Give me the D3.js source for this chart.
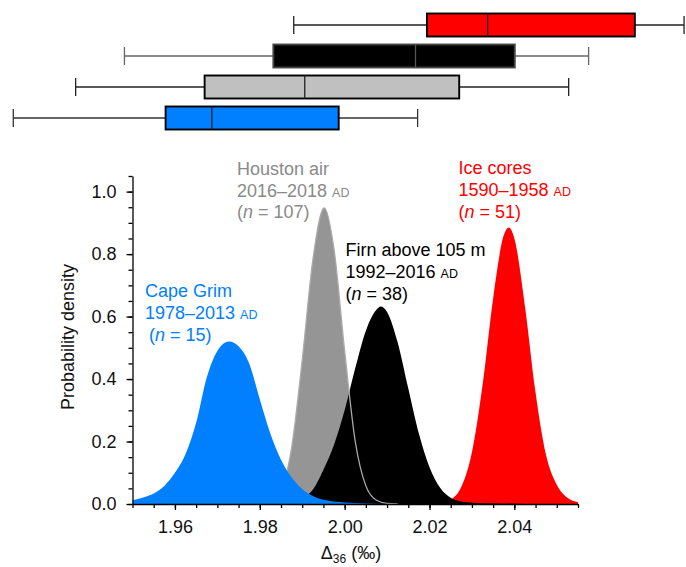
<!DOCTYPE html>
<html>
<head>
<meta charset="utf-8">
<script src="https://cdn.jsdelivr.net/npm/d3@7"></script>
<style>
  html, body { margin: 0; padding: 0; background: #fff; }
  svg { display: block; font-family: "Liberation Sans", Arial, Helvetica, sans-serif; }
</style>
</head>
<body>
<svg id="chart" width="686" height="567"></svg>
<script>
// ---------------- DATA ----------------
// Posterior probability densities (Δ36, density)
const capeGrimX = [1.9500,1.9525,1.9550,1.9575,1.9600,1.9625,1.9650,1.9675,1.9700,1.9728,1.9750,1.9775,1.9800,1.9825,1.9850,1.9875,1.9900,1.9925,1.9950,1.9975,2.0000,2.0050,2.0100];
const capeGrimD = [0.012,0.021,0.034,0.058,0.100,0.160,0.260,0.405,0.490,0.520,0.505,0.450,0.335,0.225,0.142,0.086,0.048,0.026,0.014,0.008,0.005,0.002,0.000];

const houstonX = [1.9800,1.9825,1.9850,1.9875,1.9900,1.9925,1.9952,1.9975,2.0000,2.0025,2.0050,2.0075,2.0100,2.0125];
const houstonD = [0.002,0.008,0.045,0.180,0.460,0.780,0.948,0.815,0.490,0.200,0.058,0.012,0.002,0.000];

const firnX = [1.9800,1.9850,1.9900,1.9925,1.9950,1.9975,2.0000,2.0025,2.0050,2.0075,2.0085,2.0100,2.0125,2.0150,2.0175,2.0200,2.0225,2.0250,2.0275,2.0300,2.0350,2.0400,2.0450];
const firnD = [0.002,0.005,0.020,0.046,0.110,0.190,0.300,0.435,0.555,0.622,0.632,0.615,0.517,0.370,0.226,0.118,0.052,0.020,0.008,0.004,0.002,0.001,0.000];

const iceX = [2.0200,2.0225,2.0250,2.0275,2.0300,2.0325,2.0350,2.0375,2.0387,2.0400,2.0425,2.0450,2.0475,2.0500,2.0525,2.0550];
const iceD = [0.000,0.003,0.014,0.055,0.166,0.380,0.658,0.860,0.885,0.850,0.632,0.356,0.155,0.062,0.020,0.006];

// Box plots (top to bottom)
const boxGroups = ["Ice cores", "Firn", "Houston air", "Cape Grim"];
const boxMin    = [1.9880, 1.9481, 1.9366, 1.9219];
const boxQ1     = [2.0194, 1.9832, 1.9670, 1.9578];
const boxMedian = [2.0337, 2.0167, 1.9906, 1.9687];
const boxQ3     = [2.0684, 2.0401, 2.0270, 1.9986];
const boxMax    = [2.0800, 2.0575, 2.0528, 2.0172];

// Axis ticks
const xTickValues = [1.96, 1.98, 2.00, 2.02, 2.04];
const xTickLabels = ["1.96", "1.98", "2.00", "2.02", "2.04"];
const xMinorTicks = [1.950,1.955,1.960,1.965,1.970,1.975,1.980,1.985,1.990,1.995,2.000,2.005,2.010,2.015,2.020,2.025,2.030,2.035,2.040,2.045,2.050,2.055];
const yTickValues = [0.0, 0.2, 0.4, 0.6, 0.8, 1.0];
const yTickLabels = ["0.0", "0.2", "0.4", "0.6", "0.8", "1.0"];
const yMinorTicks = [0.00,0.05,0.10,0.15,0.20,0.25,0.30,0.35,0.40,0.45,0.50,0.55,0.60,0.65,0.70,0.75,0.80,0.85,0.90,0.95,1.00,1.05];

// ---------------- STYLES ----------------
const FONT = 18;
const colBlue = "#0080ff", colRed = "#ff0000", colGrayFill = "#959595", colGrayText = "#8a8a8a";

// ---------------- SCALES ----------------
const svg = d3.select("#chart");
const x = d3.scaleLinear().domain([1.95, 2.055]).range([132.5, 578]);
const y = d3.scaleLinear().domain([0, 1.05]).range([504, 176]);
const yBox = d3.scalePoint().domain(boxGroups).range([25, 118]);

// ---------------- BOX PLOTS ----------------
const boxFill = [colRed, "#000000", "#c0c0c0", colBlue];
const boxStroke = ["#000", "#444", "#000", "#000"];
const whiskerStroke = ["#222", "#666", "#222", "#333"];
const boxH = 23, capH = 18;
boxGroups.forEach((g, i) => {
  const cy = yBox(g);
  const gg = svg.append("g");
  gg.append("line").attr("x1", x(boxMin[i])).attr("x2", x(boxQ1[i])).attr("y1", cy).attr("y2", cy)
    .attr("stroke", whiskerStroke[i]).attr("stroke-width", 1.3);
  gg.append("line").attr("x1", x(boxQ3[i])).attr("x2", x(boxMax[i])).attr("y1", cy).attr("y2", cy)
    .attr("stroke", whiskerStroke[i]).attr("stroke-width", 1.3);
  [boxMin[i], boxMax[i]].forEach(v => {
    gg.append("line").attr("x1", x(v)).attr("x2", x(v)).attr("y1", cy - capH / 2).attr("y2", cy + capH / 2)
      .attr("stroke", whiskerStroke[i]).attr("stroke-width", 1.3);
  });
  gg.append("rect").attr("x", x(boxQ1[i])).attr("y", cy - boxH / 2)
    .attr("width", x(boxQ3[i]) - x(boxQ1[i])).attr("height", boxH)
    .attr("fill", boxFill[i]).attr("stroke", boxStroke[i]).attr("stroke-width", 1.9);
  gg.append("line").attr("x1", x(boxMedian[i])).attr("x2", x(boxMedian[i]))
    .attr("y1", cy - boxH / 2).attr("y2", cy + boxH / 2)
    .attr("stroke", i === 1 ? "#555" : "#222").attr("stroke-width", 1.3);
});

// ---------------- DENSITIES ----------------
const area = d3.area().x(d => x(d[0])).y0(y(0)).y1(d => y(d[1])).curve(d3.curveMonotoneX);
const line = d3.line().x(d => x(d[0])).y(d => y(d[1])).curve(d3.curveMonotoneX);
const zip = (a, b) => a.map((v, i) => [v, b[i]]);

svg.append("path").datum(zip(iceX, iceD)).attr("d", area).attr("fill", colRed);
svg.append("path").datum(zip(houstonX, houstonD)).attr("d", area).attr("fill", colGrayFill);
svg.append("path").datum(zip(firnX, firnD)).attr("d", area).attr("fill", "#000");
svg.append("path").datum(zip(houstonX, houstonD)).attr("d", line).attr("fill", "none")
  .attr("stroke", "#aaaaaa").attr("stroke-width", 1.3);
svg.append("path").datum(zip(capeGrimX, capeGrimD)).attr("d", area).attr("fill", colBlue);

// ---------------- AXES ----------------
const xAxis = svg.append("g").attr("transform", `translate(0,${y(0)})`)
  .call(d3.axisBottom(x).tickValues(xTickValues).tickFormat((d, i) => xTickLabels[i])
    .tickSize(6).tickSizeOuter(0).tickPadding(10));
const xMinor = svg.append("g").attr("transform", `translate(0,${y(0)})`)
  .call(d3.axisBottom(x).tickValues(xMinorTicks).tickFormat("").tickSize(4).tickSizeOuter(0));
xMinor.select(".domain").remove();

const yAxis = svg.append("g").attr("transform", `translate(${x(1.95)},0)`)
  .call(d3.axisLeft(y).tickValues(yTickValues).tickFormat((d, i) => yTickLabels[i])
    .tickSize(6).tickSizeOuter(0).tickPadding(10));
const yMinor = svg.append("g").attr("transform", `translate(${x(1.95)},0)`)
  .call(d3.axisLeft(y).tickValues(yMinorTicks).tickFormat("").tickSize(4).tickSizeOuter(0));
yMinor.select(".domain").remove();

[xAxis, yAxis, xMinor, yMinor].forEach(g => {
  g.selectAll("path,line").attr("stroke", "#000").attr("stroke-width", 1.3);
  g.selectAll("text").attr("font-size", FONT).attr("fill", "#111")
    .attr("font-family", "'Liberation Sans', Arial, Helvetica, sans-serif");
});

// Axis titles
const xt = svg.append("text").attr("x", 351).attr("y", 559).attr("text-anchor", "middle")
  .attr("font-size", FONT).attr("fill", "#111");
xt.append("tspan").text("Δ");
xt.append("tspan").attr("font-size", 12).attr("dy", 3.5).text("36");
xt.append("tspan").attr("dy", -3.5).text(" (‰)");

svg.append("text").attr("transform", "translate(74,337) rotate(-90)").attr("text-anchor", "middle")
  .attr("font-size", FONT).attr("fill", "#111").text("Probability density");

// ---------------- ANNOTATIONS ----------------
function label(xp, baselines, color, lines) {
  const t = svg.append("text").attr("font-size", FONT).attr("fill", color);
  lines.forEach((ln, k) => {
    const xx = xp + (ln.indent || 0);
    let first = true;
    ln.parts.forEach(p => {
      const ts = t.append("tspan").text(p.t);
      if (first) { ts.attr("x", xx).attr("y", baselines[k]); first = false; }
      if (p.small) ts.attr("font-size", 12.5);
      if (p.it) ts.attr("font-style", "italic");
    });
  });
}
label(145, [297, 319, 341], colBlue, [
  {parts: [{t: "Cape Grim"}]},
  {parts: [{t: "1978–2013 "}, {t: "AD", small: true}]},
  {indent: 4, parts: [{t: "("}, {t: "n", it: true}, {t: " = 15)"}]}
]);
label(237, [175, 196.5, 218], colGrayText, [
  {parts: [{t: "Houston air"}]},
  {parts: [{t: "2016–2018 "}, {t: "AD", small: true}]},
  {parts: [{t: "("}, {t: "n", it: true}, {t: " = 107)"}]}
]);
label(345.5, [256, 278, 300], "#000", [
  {parts: [{t: "Firn above 105 m"}]},
  {parts: [{t: "1992–2016 "}, {t: "AD", small: true}]},
  {parts: [{t: "("}, {t: "n", it: true}, {t: " = 38)"}]}
]);
label(458.5, [173.5, 195.5, 217.5], colRed, [
  {parts: [{t: "Ice cores"}]},
  {parts: [{t: "1590–1958 "}, {t: "AD", small: true}]},
  {parts: [{t: "("}, {t: "n", it: true}, {t: " = 51)"}]}
]);
</script>
</body>
</html>
